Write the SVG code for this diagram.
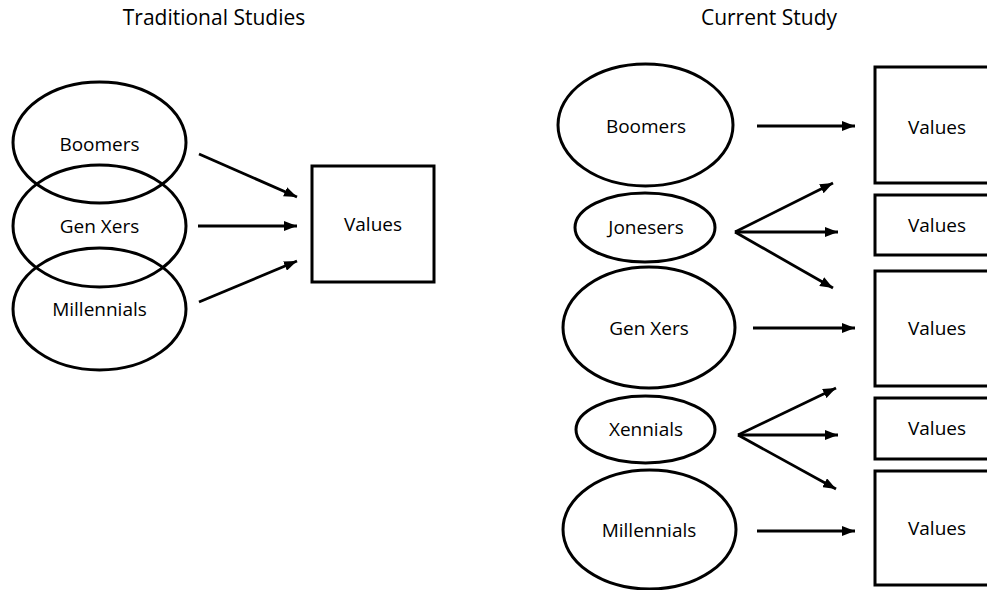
<svg xmlns="http://www.w3.org/2000/svg" width="987" height="590" viewBox="0 0 987 590">
<style>
  .title { font-family: "Open Sans", "Liberation Sans", sans-serif; font-size: 21px; fill: #000; text-anchor: middle; }
  .lbl { font-family: "Open Sans", "Liberation Sans", sans-serif; font-size: 19px; fill: #000; text-anchor: middle; }
  .ell { fill: none; stroke: #000; stroke-width: 3; }
  .box { fill: #fff; stroke: #000; stroke-width: 3; }
  .con { fill: none; stroke: #000; stroke-width: 2.8; }
</style>
<defs>
  <marker id="ah" markerUnits="userSpaceOnUse" markerWidth="13" markerHeight="10" refX="13" refY="5" orient="auto">
    <path d="M0,0 L13,5 L0,10 z" fill="#000"/>
  </marker>
</defs>
<rect width="987" height="590" fill="#fff"/>
<text class="title" x="214" y="25">Traditional Studies</text>
<text class="title" x="769" y="25">Current Study</text>

<g id="l-boomers"><ellipse class="ell" cx="99.5" cy="142.5" rx="86.5" ry="60.5"/><text class="lbl" x="99.5" y="151">Boomers</text></g>
<g id="l-genxers"><ellipse class="ell" cx="99.5" cy="226" rx="86.5" ry="61"/><text class="lbl" x="99.5" y="233">Gen Xers</text></g>
<g id="l-millennials"><ellipse class="ell" cx="99.5" cy="309" rx="86.5" ry="61"/><text class="lbl" x="99.5" y="316">Millennials</text></g>
<g id="l-values"><rect class="box" x="312" y="166" width="122" height="116"/><text class="lbl" x="373" y="231">Values</text></g>

<g id="r-boomers"><ellipse class="ell" cx="645.5" cy="125" rx="87.5" ry="61"/><text class="lbl" x="646" y="133">Boomers</text></g>
<g id="r-jonesers"><ellipse class="ell" cx="645" cy="227.5" rx="70" ry="34.5"/><text class="lbl" x="646" y="234">Jonesers</text></g>
<g id="r-genxers"><ellipse class="ell" cx="649" cy="327.5" rx="86" ry="60.5"/><text class="lbl" x="649" y="335">Gen Xers</text></g>
<g id="r-xennials"><ellipse class="ell" cx="645.5" cy="429.5" rx="69.5" ry="33.5"/><text class="lbl" x="646" y="436">Xennials</text></g>
<g id="r-millennials"><ellipse class="ell" cx="649.5" cy="529.5" rx="86.5" ry="59.5"/><text class="lbl" x="649" y="537">Millennials</text></g>

<g id="r-values1"><rect class="box" x="875" y="67" width="130" height="116"/><text class="lbl" x="937" y="134">Values</text></g>
<g id="r-values2"><rect class="box" x="875" y="195" width="130" height="60"/><text class="lbl" x="937" y="232">Values</text></g>
<g id="r-values3"><rect class="box" x="875" y="271" width="130" height="115"/><text class="lbl" x="937" y="335">Values</text></g>
<g id="r-values4"><rect class="box" x="875" y="398" width="130" height="61"/><text class="lbl" x="937" y="435">Values</text></g>
<g id="r-values5"><rect class="box" x="875" y="471" width="130" height="114"/><text class="lbl" x="937" y="535">Values</text></g>

<g id="connectors">
  <line class="con" x1="199" y1="154" x2="297" y2="197" marker-end="url(#ah)"/>
  <line class="con" x1="198" y1="226" x2="297" y2="226" marker-end="url(#ah)"/>
  <line class="con" x1="199" y1="302" x2="297" y2="261" marker-end="url(#ah)"/>

  <line class="con" x1="757" y1="126" x2="855" y2="126" marker-end="url(#ah)"/>
  <line class="con" x1="735" y1="232" x2="833" y2="183" marker-end="url(#ah)"/>
  <line class="con" x1="735" y1="232" x2="838" y2="232" marker-end="url(#ah)"/>
  <line class="con" x1="735" y1="232" x2="833" y2="288" marker-end="url(#ah)"/>
  <line class="con" x1="753" y1="328" x2="855" y2="328" marker-end="url(#ah)"/>
  <line class="con" x1="738" y1="435" x2="836" y2="388" marker-end="url(#ah)"/>
  <line class="con" x1="738" y1="435" x2="838" y2="435" marker-end="url(#ah)"/>
  <line class="con" x1="738" y1="435" x2="836" y2="489" marker-end="url(#ah)"/>
  <line class="con" x1="757" y1="531" x2="855" y2="531" marker-end="url(#ah)"/>
</g>
</svg>
